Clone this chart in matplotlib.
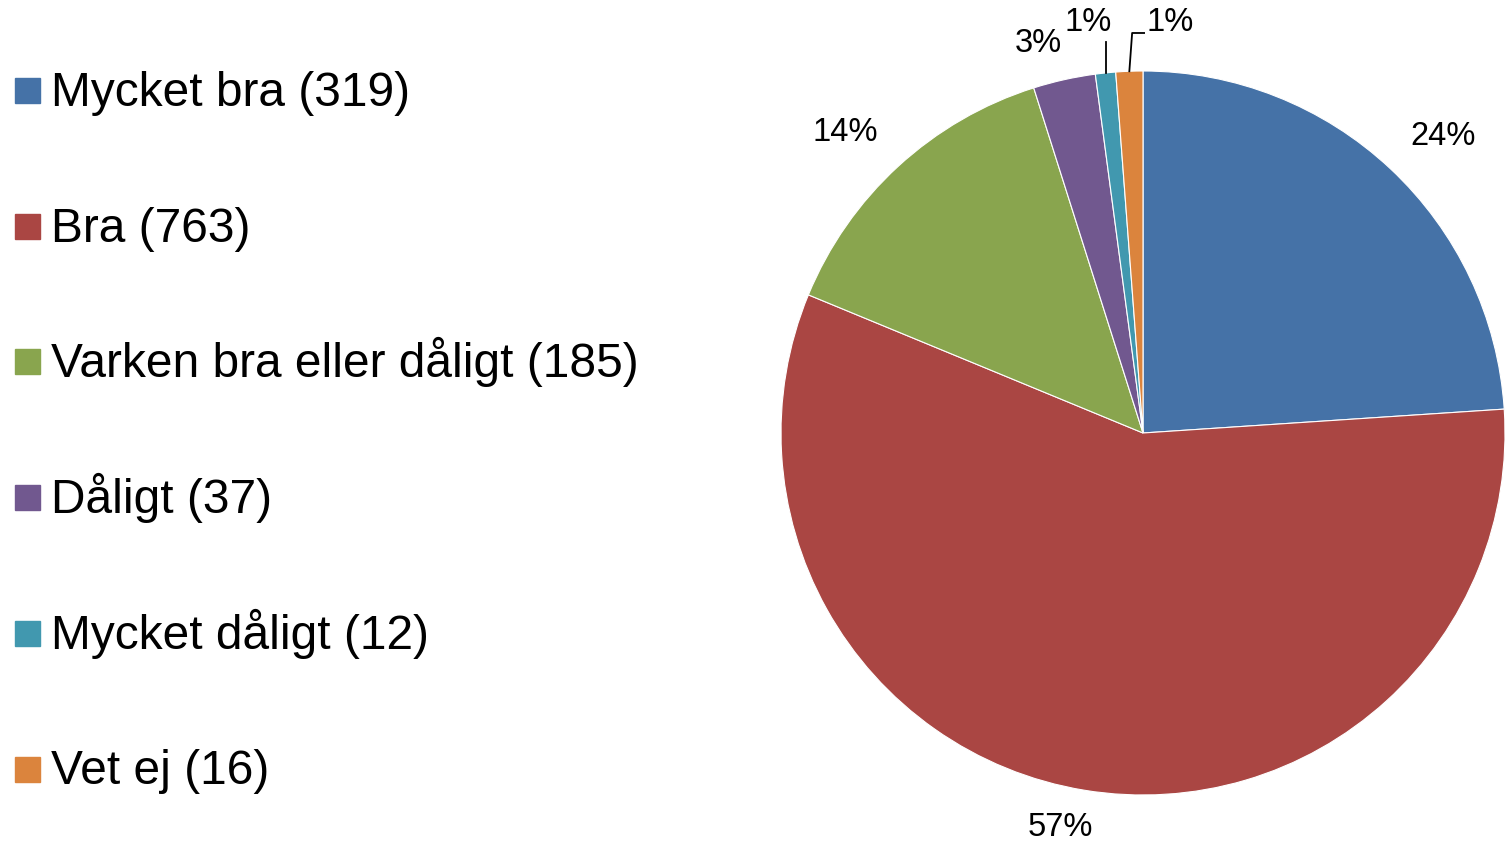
import matplotlib.pyplot as plt
import numpy as np
from matplotlib.patches import Rectangle

plt.rcParams['font.family'] = ['Liberation Sans', 'DejaVu Sans']

# Данные
categories = ['Mycket bra', 'Bra', 'Varken bra eller dåligt', 'Dåligt', 'Mycket dåligt', 'Vet ej']
counts = [319, 763, 185, 37, 12, 16]
colors = ['#4572A7', '#AA4643', '#89A54E', '#71588F', '#4198AF', '#DB843D']

W, H = 1505, 843
fig = plt.figure(figsize=(W / 100, H / 100), dpi=100)

# Оси для круговой диаграммы (центр 1143,433, радиус 362 px)
cx, cy, r = 1143, 433, 362
ax = fig.add_axes([(cx - r) / W, (H - cy - r) / H, 2 * r / W, 2 * r / H])
wedges, _ = ax.pie(counts, colors=colors, startangle=90, counterclock=False,
                   wedgeprops=dict(edgecolor='white', linewidth=0.8))
ax.set_xlim(-1, 1)
ax.set_ylim(-1, 1)
ax.set_aspect('equal')
ax.axis('off')

total = sum(counts)
pct = [round(c / total * 100) for c in counts]

# Положения подписей (в единицах радиуса)
label_pos = [(0.829, 0.818), (-0.229, -1.091), (-0.823, 0.829), (-0.29, 1.077),
             (-0.152, 1.135), (0.075, 1.135)]
fs = 23.5
for i in range(len(counts)):
    ax.text(label_pos[i][0], label_pos[i][1], f'{pct[i]}%',
            ha='center', va='center', fontsize=fs, clip_on=False)

# Выноски для маленьких секторов
w = wedges[4]
a = np.deg2rad((w.theta1 + w.theta2) / 2)
x0, y0 = np.cos(a), np.sin(a)
ax.plot([x0, x0], [y0, 1.08], color='black', lw=1.3, clip_on=False)

w = wedges[5]
a = np.deg2rad((w.theta1 + w.theta2) / 2)
x0, y0 = np.cos(a), np.sin(a)
ax.plot([x0, -0.030, 0.003], [y0, 1.105, 1.105], color='black', lw=1.3, clip_on=False)

# Легенда
for i, (name, c) in enumerate(zip(categories, counts)):
    yc = 90.5 + i * 135.7
    fig.patches.append(Rectangle((15 / W, (H - yc - 12.5) / H), 25 / W, 25 / H,
                                 transform=fig.transFigure, color=colors[i]))
    fig.text(51 / W, (H - yc - 15.5) / H, f'{name} ({c})', fontsize=34.5,
             va='baseline', ha='left')

fig.savefig('out.png', dpi=100)
